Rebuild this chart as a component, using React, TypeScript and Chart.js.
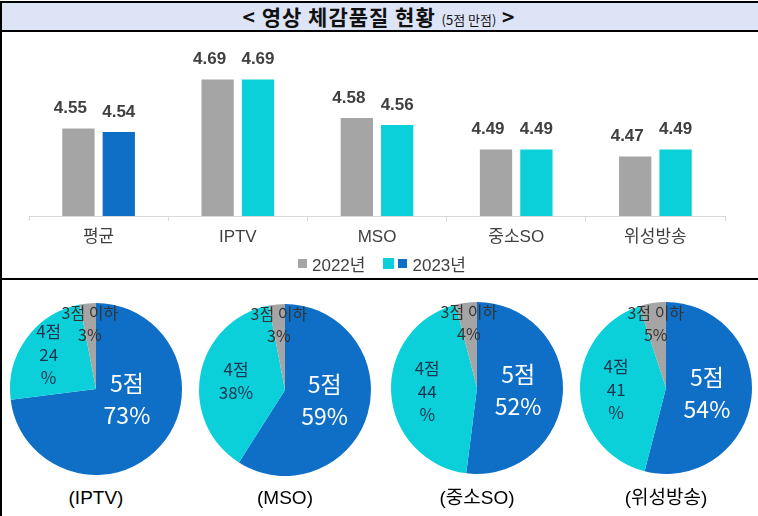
import React, { useEffect, useRef } from "react";
import { Chart, registerables } from "chart.js";

Chart.register(...registerables);

// ---------- data ----------
const categories = ["평균", "IPTV", "MSO", "중소SO", "위성방송"];
const scores2022 = [4.55, 4.69, 4.58, 4.49, 4.47];
const scores2023 = [4.54, 4.69, 4.56, 4.49, 4.49];
const seriesNames = ["2022년", "2023년"];
const yTicksRange = [4.3, 4.8];

const pieLabels = ["5점", "4점", "3점 이하"];
const pieTitles = ["(IPTV)", "(MSO)", "(중소SO)", "(위성방송)"];
const iptvShares = [73, 24, 3];
const msoShares = [59, 38, 3];
const soShares = [52, 44, 4];
const satShares = [54, 41, 5];

// ---------- style ----------
const GRAY = "#A5A5A5";
const BLUE = "#0F6FC6";
const CYAN = "#0BD0D9";
const TXT = "#404040";
const FONT = "'Liberation Sans', 'Noto Sans CJK KR', sans-serif";
const KFONT = "'Noto Sans CJK KR', 'Noto Sans', sans-serif";

function BarChart() {
  const ref = useRef<HTMLCanvasElement>(null);
  useEffect(() => {
    const valueLabels = {
      id: "valueLabels",
      afterDatasetsDraw(chart: any) {
        const c = chart.ctx;
        c.save();
        c.font = `bold 17px ${FONT}`;
        c.fillStyle = TXT;
        c.textAlign = "center";
        c.textBaseline = "middle";
        chart.data.datasets.forEach((ds: any, di: number) => {
          const meta = chart.getDatasetMeta(di);
          meta.data.forEach((bar: any, i: number) => {
            const v = ds.data[i] as number;
            c.fillText(v.toFixed(2), bar.x + (di === 0 ? -8 : 0), bar.y - 20);
          });
        });
        c.restore();
      },
    };
    const chart = new Chart(ref.current!, {
      type: "bar",
      data: {
        labels: categories,
        datasets: [
          { label: seriesNames[0], data: scores2022, backgroundColor: GRAY },
          {
            label: seriesNames[1],
            data: scores2023,
            backgroundColor: (ctx: any) => (ctx.dataIndex === 0 ? BLUE : CYAN),
          },
        ],
      },
      options: {
        responsive: false,
        animation: false,
        devicePixelRatio: 1,
        layout: { padding: { left: 29, right: 33, top: 10, bottom: 31 } },
        datasets: { bar: { barPercentage: 0.8, categoryPercentage: 0.58 } },
        plugins: { legend: { display: false }, tooltip: { enabled: false } },
        scales: {
          x: {
            grid: {
              offset: true,
              drawOnChartArea: false,
              drawTicks: true,
              tickLength: 5,
              color: "#D9D9D9",
            },
            border: { display: true, color: "#D9D9D9", width: 1 },
            ticks: { color: TXT, font: { size: 17, family: FONT }, padding: 6 },
            afterFit: (s: any) => {
              s.height = 32;
            },
          },
          y: { display: false, min: yTicksRange[0], max: yTicksRange[1], beginAtZero: false },
        },
      } as any,
      plugins: [valueLabels],
    });
    return () => chart.destroy();
  }, []);
  return (
    <canvas
      ref={ref}
      width={758}
      height={248}
      style={{ position: "absolute", left: 0, top: 31, width: 758, height: 248 }}
    />
  );
}

function PieChart({
  shares,
  cx,
  cy,
  wrapFour,
}: {
  shares: number[];
  cx: number;
  cy: number;
  wrapFour: boolean;
}) {
  const ref = useRef<HTMLCanvasElement>(null);
  useEffect(() => {
    const sliceLabels = {
      id: "sliceLabels",
      afterDatasetsDraw(chart: any) {
        const c = chart.ctx;
        const meta = chart.getDatasetMeta(0);
        c.save();
        c.textAlign = "center";
        c.textBaseline = "middle";
        meta.data.forEach((arc: any, i: number) => {
          const p = arc.getProps(["x", "y", "startAngle", "endAngle", "outerRadius"], true);
          const mid = (p.startAngle + p.endAngle) / 2;
          const r = p.outerRadius;
          const v = shares[i];
          let lines: string[];
          let k: number;
          let size: number;
          let lh: number;
          let color: string;
          if (i === 0) {
            lines = [pieLabels[0], `${v}%`];
            k = 0.48;
            size = 23;
            lh = 32;
            color = "#FFFFFF";
          } else if (i === 1) {
            lines = wrapFour ? [pieLabels[1], `${v}`, "%"] : [pieLabels[1], `${v}%`];
            k = wrapFour && v < 30 ? 0.68 : 0.58;
            size = 17;
            lh = 23;
            color = "#1B3550";
          } else {
            lines = [pieLabels[2], `${v}%`];
            k = 0.76;
            size = 16;
            lh = 22;
            color = "#333333";
          }
          const dx = Math.cos(mid) * k * r;
          let dy = Math.sin(mid) * k * r;
          if (i === 0) dy = Math.min(dy, 0.12 * r);
          const px = p.x + dx;
          const py = p.y + dy;
          c.font = `${size}px ${KFONT}`;
          c.fillStyle = color;
          const top = py - ((lines.length - 1) * lh) / 2;
          lines.forEach((t, li) => c.fillText(t, px, top + li * lh));
        });
        c.restore();
      },
    };
    const chart = new Chart(ref.current!, {
      type: "pie",
      data: {
        labels: pieLabels,
        datasets: [
          {
            data: shares,
            backgroundColor: [BLUE, CYAN, GRAY],
            borderWidth: 0,
          },
        ],
      },
      options: {
        responsive: false,
        animation: false,
        devicePixelRatio: 1,
        layout: { padding: 9 },
        plugins: { legend: { display: false }, tooltip: { enabled: false } },
      } as any,
      plugins: [sliceLabels],
    });
    return () => chart.destroy();
  }, []);
  return (
    <canvas
      ref={ref}
      width={190}
      height={190}
      style={{ position: "absolute", left: cx - 95, top: cy - 95, width: 190, height: 190 }}
    />
  );
}

const pies = [
  { shares: iptvShares, cx: 96, cy: 389, wrapFour: true },
  { shares: msoShares, cx: 285, cy: 390, wrapFour: false },
  { shares: soShares, cx: 477, cy: 388, wrapFour: true },
  { shares: satShares, cx: 666, cy: 388, wrapFour: true },
];

export default function App() {
  return (
    <div
      style={{
        position: "fixed",
        left: 0,
        top: 0,
        width: 758,
        height: 516,
        background: "#FFFFFF",
        overflow: "hidden",
      }}
    >
      {/* title band */}
      <div
        style={{
          position: "absolute",
          left: 0,
          top: 1,
          width: 758,
          height: 27,
          borderTop: "2px solid #000",
          borderBottom: "2px solid #000",
          background: "#DCE4F5",
          textAlign: "center",
          lineHeight: "27px",
          fontFamily: KFONT,
          fontWeight: 700,
          fontSize: 21,
          color: "#111",
          letterSpacing: 1,
        }}
      >
        {"< 영상 체감품질 현황 "}
        <span style={{ fontSize: 13, fontWeight: 400, letterSpacing: 0 }}>(5점 만점)</span>
        {" >"}
      </div>
      {/* left border */}
      <div style={{ position: "absolute", left: 0, top: 1, width: 2, height: 515, background: "#000" }} />
      {/* separator */}
      <div style={{ position: "absolute", left: 0, top: 278, width: 758, height: 2, background: "#000" }} />

      <BarChart />

      {/* legend */}
      <div
        style={{
          position: "absolute",
          left: 298,
          top: 253,
          height: 20,
          display: "flex",
          alignItems: "center",
          fontFamily: FONT,
          fontSize: 17,
          color: TXT,
          whiteSpace: "nowrap",
        }}
      >
        <span style={{ width: 9, height: 9, background: GRAY, display: "inline-block" }} />
        <span style={{ marginLeft: 5 }}>{seriesNames[0]}</span>
        <span style={{ marginLeft: 18, width: 11, height: 11, background: CYAN, display: "inline-block" }} />
        <span style={{ marginLeft: 4, width: 9, height: 9, background: BLUE, display: "inline-block" }} />
        <span style={{ marginLeft: 5 }}>{seriesNames[1]}</span>
      </div>

      {pies.map((p, i) => (
        <React.Fragment key={i}>
          <PieChart shares={p.shares} cx={p.cx} cy={p.cy} wrapFour={p.wrapFour} />
          <div
            style={{
              position: "absolute",
              left: p.cx - 80,
              width: 160,
              top: 486,
              height: 24,
              lineHeight: "24px",
              textAlign: "center",
              fontFamily: FONT,
              fontSize: 19,
              color: "#000",
            }}
          >
            {pieTitles[i]}
          </div>
        </React.Fragment>
      ))}
    </div>
  );
}
